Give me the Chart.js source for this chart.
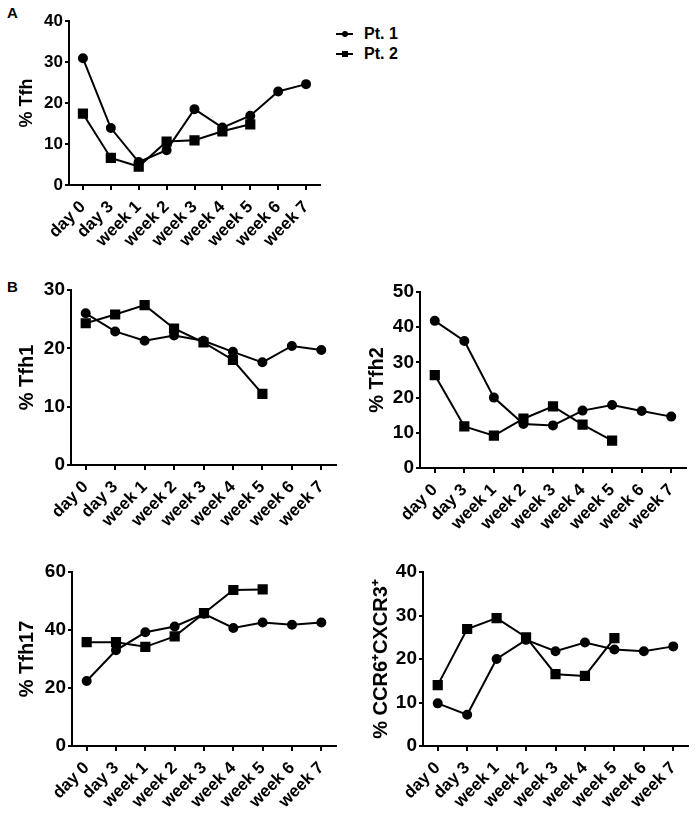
<!DOCTYPE html>
<html>
<head>
<meta charset="utf-8">
<script src="https://cdn.jsdelivr.net/npm/chart.js@4.4.0/dist/chart.umd.min.js"></script>
<style>
  body { margin: 0; background: #fff; width: 699px; height: 828px; position: relative; overflow: hidden;
         font-family: "Liberation Sans", Arial, sans-serif; }
  canvas { position: absolute; }
  .tag { position: absolute; font-weight: bold; font-size: 15px; color: #000; }
  .legend { position: absolute; left: 336px; top: 24px; font-weight: bold; font-size: 16px; line-height: 20px; }
  .row { display: flex; align-items: center; }
  .mark { position: relative; width: 17px; height: 2px; background: #000; margin-right: 11px; }
  .mark span { position: absolute; left: 6px; top: -2px; width: 6px; height: 6px; background: #000; }
  .mark .dot { border-radius: 50%; }
</style>
</head>
<body>
<div class="tag" style="left:7px;top:4px">A</div>
<div class="tag" style="left:7px;top:278px">B</div>
<div class="legend" id="legend"></div>

<canvas id="tfh" width="330" height="260" style="left:0;top:0"></canvas>
<canvas id="tfh1" width="346" height="270" style="left:0;top:270px"></canvas>
<canvas id="tfh2" width="346" height="273" style="left:350px;top:270px"></canvas>
<canvas id="tfh17" width="346" height="271" style="left:0;top:550px"></canvas>
<canvas id="ccr" width="348" height="271" style="left:350px;top:550px"></canvas>

<script>
const timepoints = ['day 0', 'day 3', 'week 1', 'week 2', 'week 3', 'week 4', 'week 5', 'week 6', 'week 7'];
const patients = ['Pt. 1', 'Pt. 2'];

const tfhPt1 = [30.9, 13.9, 5.6, 8.5, 18.5, 14.0, 16.9, 22.8, 24.6];
const tfhPt2 = [17.4, 6.6, 4.5, 10.6, 10.9, 13.1, 14.8];
const tfh1Pt1 = [26.0, 22.9, 21.3, 22.2, 21.3, 19.4, 17.6, 20.4, 19.7];
const tfh1Pt2 = [24.3, 25.8, 27.4, 23.4, 21.0, 18.0, 12.2];
const tfh2Pt1 = [41.8, 36.1, 20.0, 12.5, 12.1, 16.3, 17.9, 16.2, 14.6];
const tfh2Pt2 = [26.4, 11.8, 9.2, 14.0, 17.5, 12.3, 7.8];
const tfh17Pt1 = [22.4, 33.0, 39.2, 41.2, 45.6, 40.7, 42.6, 41.8, 42.6];
const tfh17Pt2 = [35.8, 35.8, 34.2, 37.8, 45.8, 53.8, 54.0];
const ccrPt1 = [9.8, 7.2, 20.0, 24.4, 21.8, 23.8, 22.2, 21.8, 22.9];
const ccrPt2 = [14.0, 26.9, 29.4, 25.0, 16.5, 16.1, 24.8];

Chart.defaults.color = '#000';
Chart.defaults.font.family = '"Liberation Sans", Arial, sans-serif';
Chart.defaults.font.weight = 'bold';

// legend for panel A
document.getElementById('legend').innerHTML = patients.map((p, i) =>
  `<div class="row"><div class="mark"><span class="${i === 0 ? 'dot' : ''}"></span></div>${p}</div>`
).join('');

function panel(id, title, pt1, pt2, yMax, yStep, box) {
  const ctx = document.getElementById(id).getContext('2d');
  return new Chart(ctx, {
    type: 'line',
    data: {
      labels: timepoints,
      datasets: [
        {
          label: patients[0],
          data: pt1,
          borderColor: '#000',
          backgroundColor: '#000',
          borderWidth: 2,
          pointStyle: 'circle',
          pointRadius: 4,
          lineTension: 0,
          fill: false,
        },
        {
          label: patients[1],
          data: pt2,
          borderColor: '#000',
          backgroundColor: '#000',
          borderWidth: 2,
          pointStyle: 'rect',
          pointRadius: 5.8,
          lineTension: 0,
          fill: false,
        },
      ],
    },
    options: {
      responsive: false,
      animation: false,
      clip: false,
      layout: { padding: { top: box.top, right: 10, left: 0, bottom: 0 } },
      plugins: { legend: { display: false }, tooltip: { enabled: false } },
      scales: {
        x: {
          offset: true,
          border: { display: true, color: '#000', width: 2 },
          grid: { drawOnChartArea: false, color: '#000', lineWidth: 2, tickLength: 5 },
          ticks: { autoSkip: false, minRotation: 45, maxRotation: 45, padding: 7, font: { size: 17 } },
          afterFit: (s) => { s.height = box.xh; },
        },
        y: {
          min: 0,
          max: yMax,
          border: { display: true, color: '#000', width: 2 },
          grid: { drawOnChartArea: false, color: '#000', lineWidth: 2, tickLength: 4 },
          ticks: { stepSize: yStep, padding: 2, font: { size: box.yFont } },
          title: { display: true, text: title, padding: { top: box.tpad, bottom: 0 }, font: { size: box.tFont } },
          afterFit: (s) => { s.width = box.yw; },
        },
      },
    },
  });
}

panel('tfh', '% Tfh', tfhPt1, tfhPt2, 40, 10, { top: 21, yw: 69, xh: 75, yFont: 17, tFont: 18, tpad: 16 });
panel('tfh1', '% Tfh1', tfh1Pt1, tfh1Pt2, 30, 10, { top: 20, yw: 71, xh: 75, yFont: 19, tFont: 20, tpad: 15 });
panel('tfh2', '% Tfh2', tfh2Pt1, tfh2Pt2, 50, 10, { top: 22, yw: 70, xh: 75, yFont: 19, tFont: 20, tpad: 15 });
panel('tfh17', '% Tfh17', tfh17Pt1, tfh17Pt2, 60, 20, { top: 22, yw: 72, xh: 75, yFont: 19, tFont: 20, tpad: 15 });
panel('ccr', '% CCR6\u207ACXCR3\u207A', ccrPt1, ccrPt2, 40, 10, { top: 22, yw: 73, xh: 75, yFont: 19, tFont: 20, tpad: 19 });
</script>
</body>
</html>
